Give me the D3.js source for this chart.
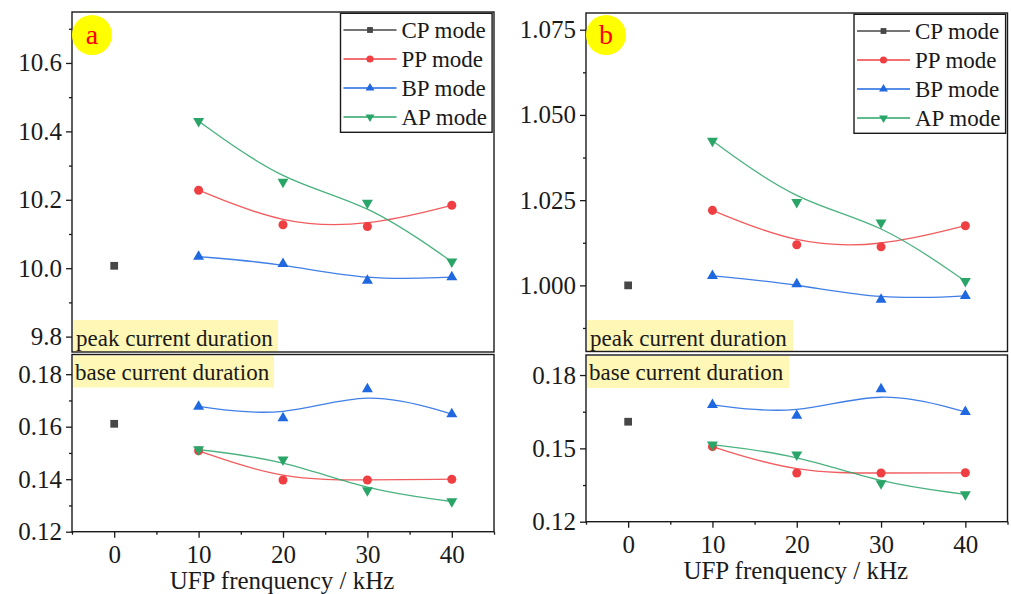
<!DOCTYPE html>
<html>
<head>
<meta charset="utf-8">
<script src="https://cdn.jsdelivr.net/npm/d3@7"></script>
<style>
  html, body { margin: 0; padding: 0; background: #fff; }
  svg { display: block; }
</style>
</head>
<body>
<svg id="chart" width="1011" height="594"></svg>
<script>
// ---------------- data ----------------
const xFreq = [10, 20, 30, 40];
const cpX = [0];
const seriesNames = ["CP mode", "PP mode", "BP mode", "AP mode"];

// panel a – peak current duration
const peakA_CP = [10.007];
const peakA_PP = [10.228, 10.127, 10.122, 10.184];
const peakA_BP = [10.034, 10.013, 9.964, 9.974];
const peakA_AP = [10.430, 10.252, 10.191, 10.019];
// panel a – base current duration
const baseA_CP = [0.1611];
const baseA_PP = [0.1508, 0.1397, 0.1397, 0.1400];
const baseA_BP = [0.1677, 0.1633, 0.1743, 0.1648];
const baseA_AP = [0.1513, 0.1474, 0.1357, 0.1315];
// panel b – peak current duration
const peakB_CP = [1.000];
const peakB_PP = [1.0220, 1.0119, 1.0113, 1.0175];
const peakB_BP = [1.0028, 1.0004, 0.9958, 0.9969];
const peakB_AP = [1.0424, 1.0244, 1.0184, 1.0012];
// panel b – base current duration
const baseB_CP = [0.1609];
const baseB_PP = [0.1507, 0.1399, 0.1399, 0.1400];
const baseB_BP = [0.1678, 0.1634, 0.1743, 0.1649];
const baseB_AP = [0.1515, 0.1474, 0.1357, 0.1312];

// ticks
const xTicks = [0, 10, 20, 30, 40];
const xMinor = [-5, 5, 15, 25, 35, 45];
const yTicksPeakA = [9.8, 10.0, 10.2, 10.4, 10.6];
const yMinorPeakA = [9.9, 10.1, 10.3, 10.5, 10.7];
const yTicksBaseA = [0.12, 0.14, 0.16, 0.18];
const yMinorBaseA = [0.13, 0.15, 0.17];
const yTicksPeakB = [1.000, 1.025, 1.050, 1.075];
const yMinorPeakB = [0.9875, 1.0125, 1.0375, 1.0625];
const yTicksBaseB = [0.12, 0.15, 0.18];
const yMinorBaseB = [0.135, 0.165];

const xTitle = "UFP frenquency / kHz";
const peakLabel = "peak current duration";
const baseLabel = "base current duration";

// ---------------- style ----------------
const FONT = "'Liberation Serif', 'DejaVu Serif', serif";
const colors = { CP: "#474747", PP: "#ef3f42", BP: "#1f68e0", AP: "#2aa568" };
const symbols = { CP: d3.symbolSquare, PP: d3.symbolCircle, BP: d3.symbolTriangle, AP: d3.symbolTriangle };
const axisColor = "#1a1a1a";
const labelBg = "#fff7b5";

const svg = d3.select("#chart").style("font-family", FONT);

function txt(sel, size) {
  return sel.attr("font-family", FONT).style("font-family", FONT)
    .style("font-size", size + "px").attr("fill", "#1a1a1a");
}

function drawPanel(cfg) {
  const g = svg.append("g");
  const x = d3.scaleLinear().domain([-5, 45]).range([cfg.left, cfg.right]);
  const yT = d3.scaleLinear().domain(cfg.topDomain).range([cfg.topBottom, cfg.top]);
  const yB = d3.scaleLinear().domain(cfg.botDomain).range([cfg.bottom, cfg.botTop]);

  // yellow labels
  g.append("rect").attr("x", cfg.left + 1).attr("y", 320)
    .attr("width", cfg.peakW).attr("height", cfg.topBottom - 320).attr("fill", labelBg);
  g.append("rect").attr("x", cfg.left + 1).attr("y", cfg.botTop + 1)
    .attr("width", cfg.baseW).attr("height", 32).attr("fill", labelBg);
  g.append("text").attr("x", cfg.left + 4).attr("y", 346).call(txt, 23).text(peakLabel);
  g.append("text").attr("x", cfg.left + 3).attr("y", cfg.botTop + 25).call(txt, 23).text(baseLabel);

  // frames
  g.append("rect").attr("x", cfg.left).attr("y", cfg.top)
    .attr("width", cfg.right - cfg.left).attr("height", cfg.topBottom - cfg.top)
    .attr("fill", "none").attr("stroke", axisColor).attr("stroke-width", 1.4);
  g.append("rect").attr("x", cfg.left).attr("y", cfg.botTop)
    .attr("width", cfg.right - cfg.left).attr("height", cfg.bottom - cfg.botTop)
    .attr("fill", "none").attr("stroke", axisColor).attr("stroke-width", 1.4);

  function styleAxis(sel) {
    sel.attr("font-family", FONT);
    sel.select(".domain").remove();
    sel.selectAll("line").attr("stroke", axisColor).attr("stroke-width", 1.3);
    sel.selectAll("text").call(txt, 25);
  }

  // y axes
  [[yT, cfg.topTicks, cfg.topMinor, cfg.topFmt], [yB, cfg.botTicks, cfg.botMinor, cfg.botFmt]].forEach(([ys, tk, mn, fmt]) => {
    g.append("g").attr("transform", `translate(${cfg.left},0)`)
      .call(d3.axisLeft(ys).tickValues(tk).tickSize(6).tickPadding(4).tickFormat(d3.format(fmt)))
      .call(styleAxis);
    g.append("g").attr("transform", `translate(${cfg.left},0)`)
      .call(d3.axisLeft(ys).tickValues(mn).tickSize(3).tickFormat(""))
      .call(styleAxis);
  });

  // x axis
  g.append("g").attr("transform", `translate(0,${cfg.bottom})`)
    .call(d3.axisBottom(x).tickValues(xTicks).tickSize(6).tickPadding(6).tickFormat(d3.format("d")))
    .call(styleAxis)
    .selectAll("text").attr("dy", "0.76em");
  g.append("g").attr("transform", `translate(0,${cfg.bottom})`)
    .call(d3.axisBottom(x).tickValues(xMinor).tickSize(3).tickFormat(""))
    .call(styleAxis);

  g.append("text").attr("x", (cfg.left + cfg.right) / 2 - 1).attr("y", cfg.bottom + 57)
    .attr("text-anchor", "middle").call(txt, 25).text(xTitle);

  // data
  const line = d3.line().curve(d3.curveBasis);
  function drawSeries(ys, key, xs, vals) {
    const pts = xs.map((xv, i) => [x(xv), ys(vals[i])]);
    if (pts.length > 1) {
      g.append("path").attr("d", line(pts)).attr("fill", "none")
        .attr("stroke", colors[key]).attr("stroke-width", 1.3).attr("stroke-opacity", 0.85);
    }
    const size = key === "CP" ? 60 : key === "PP" ? 64 : 52;
    const sym = d3.symbol().type(symbols[key]).size(size);
    g.selectAll(null).data(pts).enter().append("path")
      .attr("d", sym())
      .attr("transform", d => `translate(${d[0]},${d[1]})${key === "AP" ? " rotate(180)" : ""}`)
      .attr("fill", colors[key]);
  }
  const td = cfg.topData, bd = cfg.botData;
  drawSeries(yT, "CP", cpX, td.CP); drawSeries(yT, "PP", xFreq, td.PP);
  drawSeries(yT, "BP", xFreq, td.BP); drawSeries(yT, "AP", xFreq, td.AP);
  drawSeries(yB, "CP", cpX, bd.CP); drawSeries(yB, "PP", xFreq, bd.PP);
  drawSeries(yB, "BP", xFreq, bd.BP); drawSeries(yB, "AP", xFreq, bd.AP);

  // legend
  const lx = cfg.right - 153.5, ly = cfg.top + 1.3;
  const lg = g.append("g");
  lg.append("rect").attr("x", lx).attr("y", ly).attr("width", 151.6).attr("height", 119)
    .attr("fill", "#fff").attr("stroke", axisColor).attr("stroke-width", 1.4);
  ["CP", "PP", "BP", "AP"].forEach((k, i) => {
    const ry = ly + 16.7 + i * 29;
    lg.append("line").attr("x1", lx + 3).attr("x2", lx + 56).attr("y1", ry).attr("y2", ry)
      .attr("stroke", colors[k]).attr("stroke-width", 1.3);
    lg.append("path").attr("d", d3.symbol().type(symbols[k]).size(k === "PP" ? 40 : 34)())
      .attr("transform", `translate(${lx + 29.5},${ry})${k === "AP" ? " rotate(180)" : ""}`)
      .attr("fill", colors[k]);
    lg.append("text").attr("x", lx + 61).attr("y", ry + 7.5).call(txt, 23).text(seriesNames[i]);
  });

  // circled panel letter
  g.append("circle").attr("cx", cfg.left + 20).attr("cy", 35).attr("r", 20).attr("fill", "#ffff00");
  g.append("text").attr("x", cfg.left + 20).attr("y", 44).attr("text-anchor", "middle")
    .call(txt, 28).attr("fill", "#ff0000").style("fill", "#ff0000").text(cfg.letter);
}

drawPanel({
  letter: "a", left: 72, right: 494, top: 12, topBottom: 352, botTop: 354.5, bottom: 531.7,
  topDomain: [9.755, 10.749], botDomain: [0.12, 0.1875],
  topTicks: yTicksPeakA, topMinor: yMinorPeakA, topFmt: ".1f",
  botTicks: yTicksBaseA, botMinor: yMinorBaseA, botFmt: ".2f",
  peakW: 205, baseW: 201,
  topData: { CP: peakA_CP, PP: peakA_PP, BP: peakA_BP, AP: peakA_AP },
  botData: { CP: baseA_CP, PP: baseA_PP, BP: baseA_BP, AP: baseA_AP }
});
drawPanel({
  letter: "b", left: 586, right: 1007.5, top: 13, topBottom: 351.5, botTop: 355, bottom: 521.7,
  topDomain: [0.9806, 1.0799], botDomain: [0.12, 0.1882],
  topTicks: yTicksPeakB, topMinor: yMinorPeakB, topFmt: ".3f",
  botTicks: yTicksBaseB, botMinor: yMinorBaseB, botFmt: ".2f",
  peakW: 206, baseW: 202,
  topData: { CP: peakB_CP, PP: peakB_PP, BP: peakB_BP, AP: peakB_AP },
  botData: { CP: baseB_CP, PP: baseB_PP, BP: baseB_BP, AP: baseB_AP }
});
</script>
</body>
</html>
